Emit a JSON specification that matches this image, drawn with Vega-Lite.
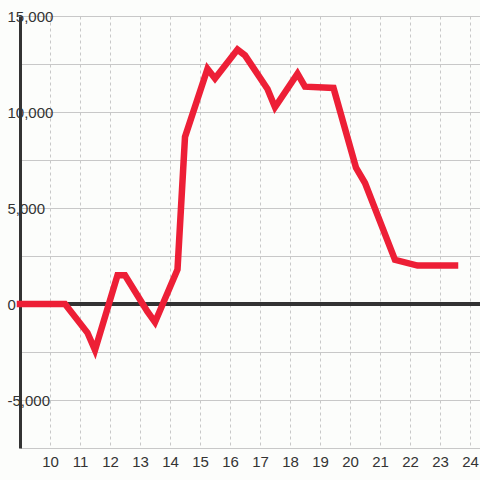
{
  "$schema": "https://vega.github.io/schema/vega-lite/v6.json",
  "width": 460,
  "height": 432,
  "autosize": {"type": "none"},
  "padding": {"left": 20, "top": 16, "right": 0, "bottom": 32},
  "background": "#fcfdfb",
  "config": {
    "view": {"stroke": null},
    "font": "Liberation Sans",
    "axis": {"labelFont": "Liberation Sans", "labelFontSize": 15, "labelColor": "#333333"}
  },
  "data": {
    "values": [
      {"hour": 9, "value": 0},
      {"hour": 10.5, "value": 0},
      {"hour": 11.25, "value": -1500},
      {"hour": 11.5, "value": -2400},
      {"hour": 12.25, "value": 1500},
      {"hour": 12.5, "value": 1500},
      {"hour": 13.25, "value": -400},
      {"hour": 13.5, "value": -950},
      {"hour": 14.25, "value": 1800},
      {"hour": 14.5, "value": 8700},
      {"hour": 15.25, "value": 12250},
      {"hour": 15.5, "value": 11750},
      {"hour": 16.25, "value": 13250},
      {"hour": 16.5, "value": 12950},
      {"hour": 17.25, "value": 11200},
      {"hour": 17.5, "value": 10250},
      {"hour": 18.25, "value": 12000},
      {"hour": 18.5, "value": 11320},
      {"hour": 19.45, "value": 11250},
      {"hour": 20.2, "value": 7100},
      {"hour": 20.5, "value": 6300},
      {"hour": 21.5, "value": 2300},
      {"hour": 22.25, "value": 2000},
      {"hour": 23.5, "value": 2000}
    ]
  },
  "layer": [
    {
      "mark": {"type": "rule", "color": "#333333", "strokeWidth": 3},
      "encoding": {"y": {"datum": 0, "type": "quantitative"}}
    },
    {
      "mark": {"type": "line", "color": "#ed1f36", "strokeWidth": 6.5, "strokeCap": "square", "strokeJoin": "miter", "clip": false},
      "encoding": {
        "x": {
          "field": "hour",
          "type": "quantitative",
          "scale": {"domain": [9, 24.3333], "nice": false, "zero": false},
          "axis": {
            "title": null,
            "values": [10, 11, 12, 13, 14, 15, 16, 17, 18, 19, 20, 21, 22, 23, 24],
            "domain": false,
            "ticks": false,
            "labelPadding": 6,
            "labelFlush": false,
            "grid": true,
            "gridColor": "#c8c8c8",
            "gridDash": [3, 3],
            "gridWidth": 1
          }
        },
        "y": {
          "field": "value",
          "type": "quantitative",
          "scale": {"domain": [-7500, 15000], "nice": false},
          "axis": {
            "title": null,
            "values": [-7500, -5000, -2500, 0, 2500, 5000, 7500, 10000, 12500, 15000],
            "labelExpr": "datum.value % 5000 === 0 ? replace(format(datum.value, ','), '\u2212', '-') : ''",
            "domain": true,
            "domainColor": "#333333",
            "domainWidth": 3,
            "ticks": false,
            "labelAlign": "left",
            "labelPadding": 13,
            "labelFlush": false,
            "labelOverlap": false,
            "grid": true,
            "gridColor": "#c8c8c8",
            "gridWidth": 1
          }
        }
      }
    }
  ]
}
